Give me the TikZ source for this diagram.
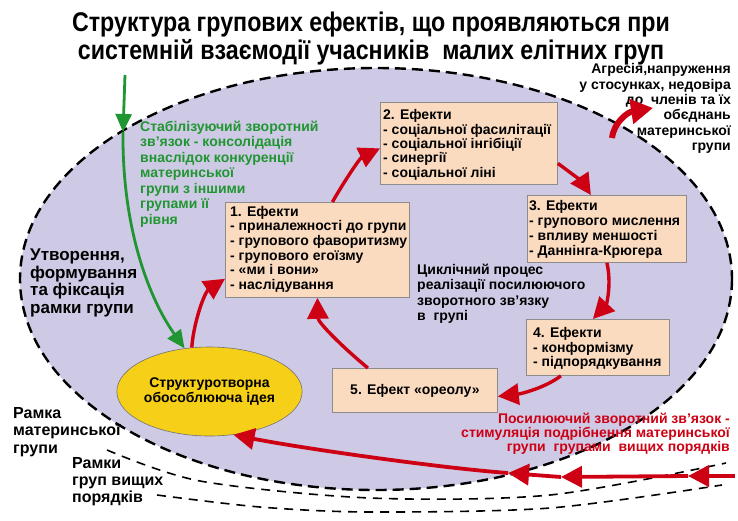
\documentclass[tikz,border=0pt]{standalone}
\usepackage{fontspec}
\setmainfont{Liberation Sans}
\newfontfamily\narrowfont{Liberation Sans}[FakeStretch=0.86]
\usetikzlibrary{arrows.meta,calc,shapes.geometric}
\definecolor{lilac}{RGB}{206,201,228}
\definecolor{peach}{RGB}{251,219,192}
\definecolor{ideagold}{RGB}{246,207,24}
\definecolor{fbred}{RGB}{205,0,20}
\definecolor{fbgreen}{RGB}{32,150,50}
\tikzset{
	effbox/.style={draw=black!45, fill=peach, line width=0.8pt, anchor=north west, inner sep=0pt},
	efftext/.style={anchor=north west, inner sep=0pt, align=left, font=\fontsize{14}{14.6}\selectfont\bfseries},
	cycarrow/.style={draw=fbred, line width=3.4pt, -{Triangle[length=21pt,width=21pt]}},
	backarrow/.style={draw=fbred, line width=3.8pt, -{Triangle[length=21pt,width=21pt]}},
	stabarrow/.style={draw=fbgreen, line width=2.8pt, -{Triangle[length=18pt,width=16pt]}},
	framedash/.style={draw=black, line width=1.6pt, dash pattern=on 9pt off 7pt},
}
\begin{document}
\begin{tikzpicture}[x=1pt, y=-1pt]
			%%%%% START %%%%%
			\useasboundingbox[fill=white] (0,0) rectangle (738,520);
			
			\node[align=center, font=\narrowfont\fontsize{27}{28}\selectfont\bfseries] (title) at (371, 38.5) {Структура групових ефектів, що проявляються при\\системній взаємодії учасників\ \ малих елітних груп};
			
			% outer frames
			\draw[framedash] plot[smooth] coordinates {(107,450) (200,481) (370,498) (550,495) (726,463)};
			\draw[framedash] plot[smooth] coordinates {(157,495) (260,507) (370,512) (550,508) (722,485)};
			
			% frame of the mother group
			\draw[fill=lilac, draw=black, line width=2.4pt, dash pattern=on 11pt off 6pt] (376, 279) ellipse (356 and 211);
			
			\node[ellipse, draw=black!55, fill=ideagold, line width=0.6pt, minimum width=177pt, minimum height=89pt, inner sep=0pt, align=center, font=\fontsize{14}{14.5}\selectfont\bfseries] (idea) at (209.5, 391.5) {Структуротворна\\обособлююча ідея};
			
			\node[effbox, minimum width=184pt, minimum height=95pt] (e1) at (225, 202) {};
			\node[efftext] (e1t) at (230, 206) {1. Ефекти\\- приналежності до групи\\- групового фаворитизму\\- групового егоїзму\\- «ми і вони»\\- наслідування};
			
			\node[effbox, minimum width=177pt, minimum height=82pt] (e2) at (380, 102) {};
			\node[efftext, font=\fontsize{14}{14.3}\selectfont\bfseries] (e2t) at (383, 109.5) {2. Ефекти\\- соціальної фасилітації\\- соціальної інгібіції\\- синергії\\- соціальної ліні};
			
			\node[effbox, minimum width=159pt, minimum height=67pt] (e3) at (527, 195) {};
			\node[efftext, font=\fontsize{14}{15}\selectfont\bfseries] (e3t) at (529, 200.5) {3. Ефекти\\- групового мислення\\- впливу меншості\\- Даннінга-Крюгера};
			
			\node[effbox, minimum width=143pt, minimum height=56pt] (e4) at (526, 319) {};
			\node[efftext, font=\fontsize{14}{14.5}\selectfont\bfseries] (e4t) at (533, 327.5) {4. Ефекти\\- конформізму\\- підпорядкування};
			
			\node[effbox, minimum width=165pt, minimum height=44pt] (e5) at (332, 368) {};
			\node[font=\fontsize{14}{15}\selectfont\bfseries] (e5t) at (e5.center) {5. Ефект «ореолу»};
			
			\node[efftext, font=\fontsize{14}{15.6}\selectfont\bfseries] (cycle) at (417, 263.5) {Циклічний процес\\реалізації посилюючого\\зворотного зв’язку\\в\ \ групі};
			
			\node[efftext, text=fbgreen, font=\fontsize{14}{15.5}\selectfont\bfseries] (stab) at (140, 120.5) {Стабілізуючий зворотний\\зв’язок - консолідація\\внаслідок конкуренції\\материнської\\групи з іншими\\групами її\\рівня};
			
			\node[efftext, font=\fontsize{17}{17.5}\selectfont\bfseries] (form) at (30, 249) {Утворення,\\формування\\та фіксація\\рамки групи};
			
			\node[efftext, font=\fontsize{16}{17.5}\selectfont\bfseries] (mframe) at (13, 407) {Рамка\\материнської\\групи};
			\node[efftext, font=\fontsize{16}{17}\selectfont\bfseries] (hframe) at (72, 457) {Рамки\\груп вищих\\порядків};
			
			\node[anchor=north east, inner sep=0pt, align=right, font=\fontsize{14}{15.3}\selectfont\bfseries] (aggr) at (731, 63.5) {Агресія,напруження\\у стосунках, недовіра\\до\ \ членів та їх\\обєднань\\материнської\\групи};
			
			\node[anchor=north east, inner sep=0pt, align=right, text=fbred, font=\fontsize{14}{14}\selectfont\bfseries] (boost) at (730, 412.5) {Посилюючий зворотний зв’язок -\\стимуляція подрібнення материнської\\групи\ \ групами\ \ вищих порядків};
			
			% stabilising feedback
			\coordinate (g0) at (125, 75);
			\coordinate (g1) at (123, 132);
			\draw[stabarrow] (g0) -- (g1);
			\draw[stabarrow] (g1) .. controls (122, 230) and (150, 300) .. (idea.120);
			
			% cycle
			\draw[cycarrow] (idea.112) .. controls (194, 320) and (205, 292) .. ($(e1.south west)+(0,-19)$);
			\draw[cycarrow] ($(e1.north)+(15,0)$) .. controls (345, 180) and (360, 158) .. ($(e2.west)+(0,5)$);
			\draw[cycarrow] ($(e2.east)+(0,20)$) .. controls (570, 172) and (583, 183) .. ($(e3.north)+(-16,0)$);
			\draw[cycarrow] (e3.south) .. controls (612, 285) and (606, 305) .. ($(e4.north)+(-5,0)$);
			\draw[cycarrow] ($(e4.south)+(-37,0)$) .. controls (545, 388) and (520, 394) .. ($(e5.east)+(0,6)$);
			\draw[cycarrow] ($(e5.north)+(-47,0)$) .. controls (340, 345) and (318, 322) .. (e1.south);
			
			% aggression
			\coordinate (a0) at (612, 138);
			\coordinate (a1) at (653, 108);
			\draw[draw=fbred, line width=6pt, -{Triangle[length=22pt,width=24pt]}] (a0) .. controls (614, 122) and (628, 112) .. (a1);
			
			% reinforcing feedback from higher groups
			\coordinate (r0) at (735, 476);
			\coordinate (r1) at (688, 476);
			\coordinate (r2) at (561, 477);
			\coordinate (r3) at (508, 473);
			\draw[backarrow] (r0) -- (r1);
			\draw[backarrow] (r1) -- (r2);
			\draw[backarrow] (r2) -- (r3);
			\draw[backarrow] (r3) .. controls (440, 468) and (300, 448) .. (idea.-61);
			
			%%%%% END %%%%%
\end{tikzpicture}
\end{document}
